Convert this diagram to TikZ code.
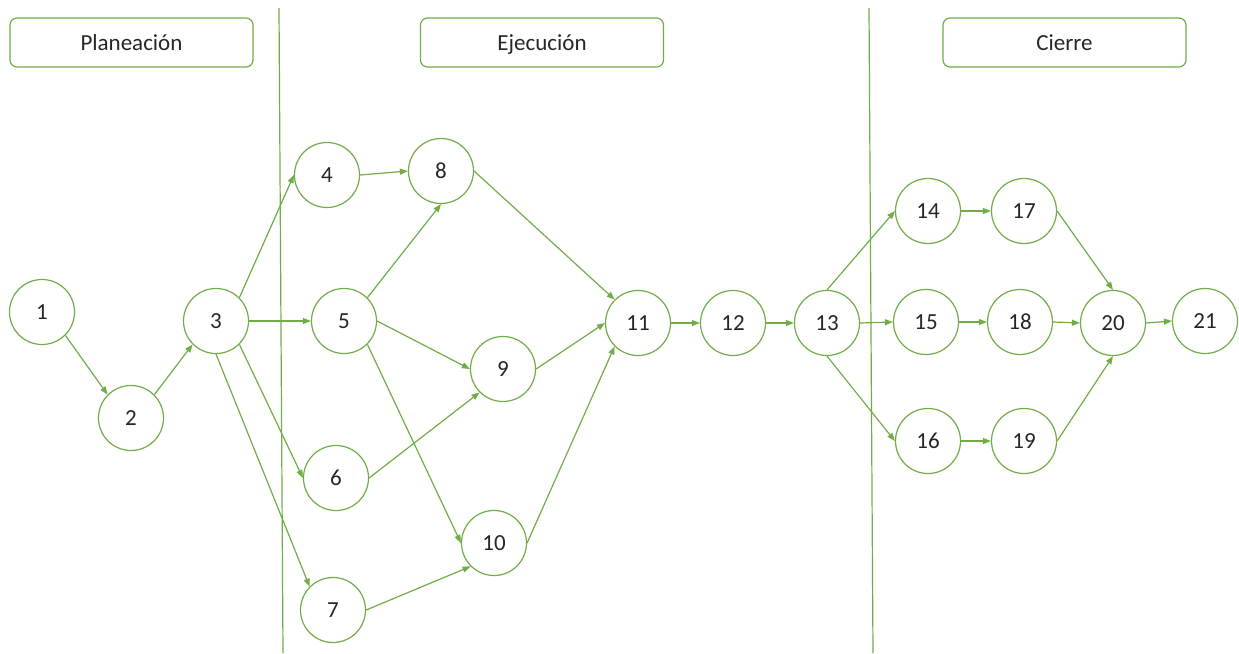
\documentclass[tikz,border=0pt]{standalone}
\usepackage{fontspec}
\setmainfont{Carlito}
\usetikzlibrary{arrows.meta}
\definecolor{grn}{HTML}{70AD47}
\definecolor{txt}{HTML}{262626}
\tikzset{
  ev/.style={circle, draw=grn, line width=1.2pt, minimum size=65pt, inner sep=0pt, text=txt, font=\fontsize{23}{26}\selectfont},
  phase/.style={rectangle, rounded corners=7pt, draw=grn, line width=1.2pt, minimum width=243pt, minimum height=49pt, text=txt, font=\fontsize{23}{26}\selectfont, text height=16pt, text depth=0pt},
  conn/.style={draw=grn, line width=1.2pt, -{Triangle[length=8pt,width=6pt]}},
  divider/.style={draw=grn, line width=1.2pt}
}
\begin{document}
\begin{tikzpicture}[x=1pt,y=-1pt]
\useasboundingbox (0,0) rectangle (1239,653);
% phase headers
\node[phase] (plan) at (131.5,42.5) {Planeación};
\node[phase] (ejec) at (542,42.5) {Ejecución};
\node[phase] (cier) at (1064.5,42.5) {Cierre};
% dividers
\coordinate (d1t) at (279,8);
\coordinate (d1b) at (283,653);
\coordinate (d2t) at (869,8);
\coordinate (d2b) at (873,653);
\draw[divider] (d1t) -- (d1b);
\draw[divider] (d2t) -- (d2b);
% events
\node[ev] (n1) at (42,312) {1};
\node[ev] (n2) at (131,418) {2};
\node[ev] (n3) at (216,321) {3};
\node[ev] (n4) at (327,175) {4};
\node[ev] (n5) at (344,321) {5};
\node[ev] (n6) at (336,478) {6};
\node[ev] (n7) at (333,610) {7};
\node[ev] (n8) at (441,171) {8};
\node[ev] (n9) at (503,369) {9};
\node[ev] (n10) at (494,543) {10};
\node[ev] (n11) at (638,323) {11};
\node[ev] (n12) at (733,323) {12};
\node[ev] (n13) at (827,323) {13};
\node[ev] (n14) at (928,211) {14};
\node[ev] (n15) at (926,322) {15};
\node[ev] (n16) at (928,441) {16};
\node[ev] (n17) at (1024,211) {17};
\node[ev] (n18) at (1020,322) {18};
\node[ev] (n19) at (1024,441) {19};
\node[ev] (n20) at (1113,323) {20};
\node[ev] (n21) at (1205,321) {21};
% connectors
\foreach \a/\b in {
  n1.south east/n2.north west,
  n2.north east/n3.south west,
  n3.north east/n4.west,
  n3.east/n5.west,
  n3.south east/n6.west,
  n3.south/n7.north west,
  n4.east/n8.west,
  n5.north east/n8.south,
  n5.east/n9.west,
  n5.south east/n10.west,
  n6.east/n9.south west,
  n7.east/n10.south west,
  n8.east/n11.north west,
  n9.east/n11.west,
  n10.east/n11.south west,
  n11.east/n12.west,
  n12.east/n13.west,
  n13.north/n14.west,
  n13.east/n15.west,
  n13.south/n16.west,
  n14.east/n17.west,
  n15.east/n18.west,
  n16.east/n19.west,
  n17.east/n20.north,
  n18.east/n20.west,
  n19.east/n20.south,
  n20.east/n21.west}
  \draw[conn] (\a) -- (\b);
\end{tikzpicture}
\end{document}
